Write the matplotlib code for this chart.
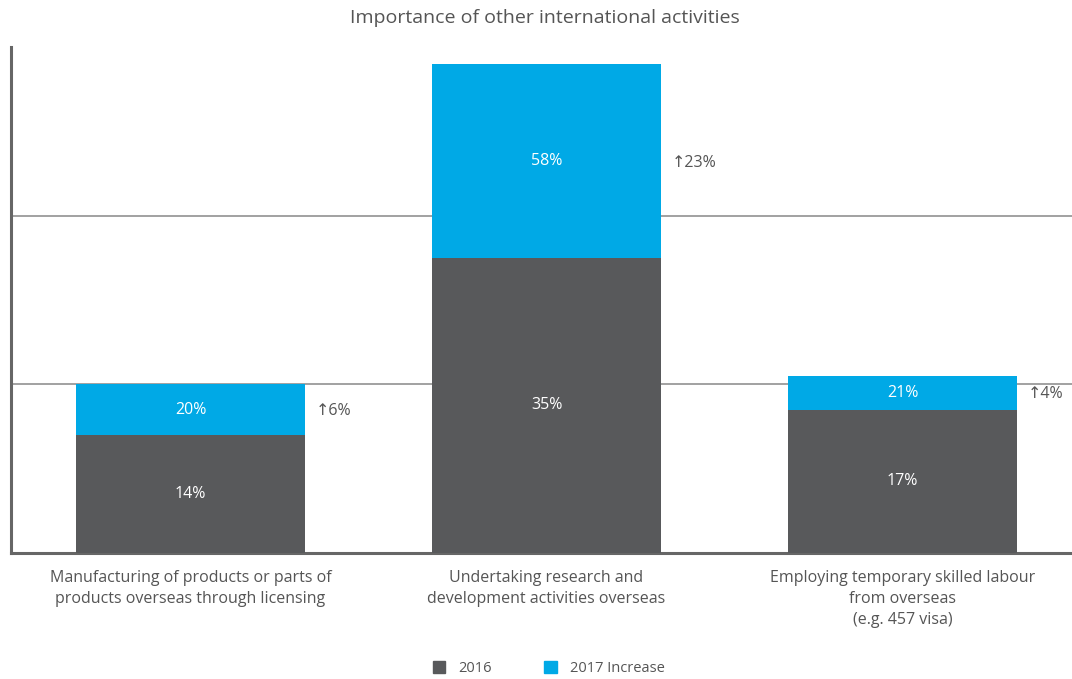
import numpy as np
import matplotlib.pyplot as plt
from matplotlib.patches import Patch

plt.rcParams['font.family'] = ['Open Sans', 'DejaVu Sans']

categories = ['Manufacturing of products or parts of\nproducts overseas through licensing',
              'Undertaking research and\ndevelopment activities overseas',
              'Employing temporary skilled labour\nfrom overseas\n(e.g. 457 visa)']
base_2016 = [14, 35, 17]
total_2017 = [20, 58, 21]
increase = [6, 23, 4]

dark = '#58595b'
cyan = '#00a9e6'
text_col = '#555555'

fig = plt.figure(figsize=(10.72, 6.79), dpi=100)
ax = fig.add_axes([0.0103, 0.1856, 0.9897, 0.7452])

x = np.arange(len(categories))
width = 0.643
top = np.array(total_2017) - np.array(base_2016)
ax.bar(x, base_2016, width, color=dark, zorder=3)
ax.bar(x, top, width, bottom=base_2016, color=cyan, zorder=3)

for i in range(len(x)):
    ax.text(x[i], base_2016[i] / 2., '%d%%' % base_2016[i], color='white',
            ha='center', va='center', fontsize=11.5, zorder=4)
    ax.text(x[i], base_2016[i] + top[i] / 2., '%d%%' % total_2017[i], color='white',
            ha='center', va='center', fontsize=11.5, zorder=4)
    ax.text(x[i] + width / 2. + 0.03, base_2016[i] + top[i] / 2. - 0.2, u'\u2191%d%%' % increase[i],
            color=text_col, ha='left', va='center', fontsize=11.5, zorder=4)

ax.set_xlim(-0.504, 2.476)
ax.set_ylim(0, 60)
ax.set_yticks([20, 40])
ax.yaxis.grid(True, color='#9a9a9a', lw=1.3, zorder=0)
ax.tick_params(axis='y', length=0, labelleft=False)
ax.tick_params(axis='x', length=0, pad=12)
ax.set_xticks(x)
ax.set_xticklabels(categories, fontsize=11.5, color=text_col, linespacing=1.45)

for s in ['top', 'right']:
    ax.spines[s].set_visible(False)
ax.spines['left'].set_color('#666666')
ax.spines['left'].set_linewidth(2.2)
ax.spines['bottom'].set_color('#666666')
ax.spines['bottom'].set_linewidth(2.2)

fig.text(0.508, 0.974, 'Importance of other international activities', ha='center',
         va='center', fontsize=14, color=text_col)

handles = [Patch(color=dark), Patch(color=cyan)]
fig.legend(handles, ['2016', '2017 Increase'], loc='center', bbox_to_anchor=(0.512, 0.015),
           ncol=2, frameon=False, fontsize=10.5, labelcolor=text_col, handlelength=0.85,
           handleheight=0.85, columnspacing=3.6, handletextpad=0.9)

fig.savefig('out.png', dpi=100)
